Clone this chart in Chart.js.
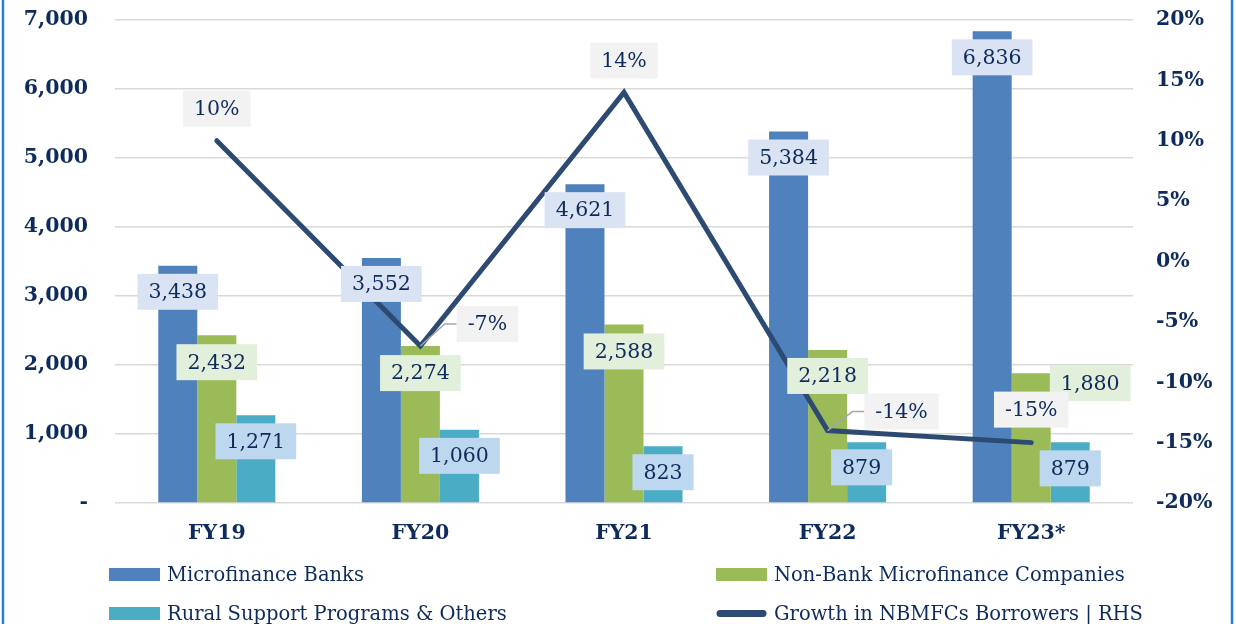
<!DOCTYPE html>
<html>
<head>
<meta charset="utf-8">
<script src="https://cdn.jsdelivr.net/npm/chart.js@4/dist/chart.umd.min.js"></script>
<style>
  html, body { margin: 0; padding: 0; background: #fff; }
  canvas { display: block; }
</style>
</head>
<body>
<canvas id="graphique" width="1237" height="624"></canvas>
<script>
// Données
const categories = ["FY19", "FY20", "FY21", "FY22", "FY23*"];
const microfinanceBanks = [3438, 3552, 4621, 5384, 6836];
const nonBankMicrofinance = [2432, 2274, 2588, 2218, 1880];
const ruralSupport = [1271, 1060, 823, 879, 879];
const growthNBMFC = [10, -7, 14, -14, -15]; // en %
const leftTicks = [0, 1000, 2000, 3000, 4000, 5000, 6000, 7000];
const rightTicks = [-20, -15, -10, -5, 0, 5, 10, 15, 20];

const navy = "#0e2b5c";
const fontSerif = "'DejaVu Serif', serif";

// décalage des étiquettes (dx, dy) par rapport au point / haut de barre
const barLabelOffset = [
  [[0, 26], [0, 26], [0, 26], [0, 26], [0, 26]],
  [[0, 27], [0, 27], [0, 27], [0, 26], [59, 10]],
  [[0, 26], [0, 26], [0, 26], [-5, 25], [0, 26]],
];
const lineLabelOffset = [[0, -32], [67, -22], [0, -32], [74, -19], [0, -33]];
const labelFill = ["#dae3f3", "#e2efda", "#bdd7ee", "#f2f2f2"];

function fmt(v) {
  return v.toLocaleString("en-US");
}

function drawBox(ctx, text, cx, cy, fill) {
  ctx.font = "20.5px " + fontSerif;
  const w = ctx.measureText(text).width + 22;
  const h = 36;
  ctx.fillStyle = fill;
  ctx.fillRect(cx - w / 2, cy - h / 2, w, h);
  ctx.fillStyle = navy;
  ctx.textAlign = "center";
  ctx.textBaseline = "middle";
  ctx.fillText(text, cx, cy + 1);
  return w;
}

const etiquettes = {
  id: "etiquettes",
  afterDatasetsDraw(chart) {
    const ctx = chart.ctx;
    ctx.save();
    // barres
    for (let i = 0; i < 3; i++) {
      const meta = chart.getDatasetMeta(i);
      meta.data.forEach((el, j) => {
        const off = barLabelOffset[i][j];
        drawBox(ctx, fmt(chart.data.datasets[i].data[j]), el.x + off[0], el.y + off[1], labelFill[i]);
      });
    }
    // ligne
    const meta = chart.getDatasetMeta(3);
    meta.data.forEach((el, j) => {
      const off = lineLabelOffset[j];
      const cx = el.x + off[0];
      const cy = el.y + off[1];
      ctx.font = "20.5px " + fontSerif;
      const w = ctx.measureText(growthNBMFC[j] + "%").width + 22;
      if (off[0] !== 0) {
        const left = cx - w / 2;
        ctx.strokeStyle = "#a6a6a6";
        ctx.lineWidth = 1.5;
        ctx.beginPath();
        ctx.moveTo(el.x, el.y);
        ctx.lineTo(left - 12, cy);
        ctx.lineTo(left, cy);
        ctx.stroke();
      }
      drawBox(ctx, growthNBMFC[j] + "%", cx, cy, labelFill[3]);
    });
    ctx.restore();
  },
  afterDraw(chart) {
    const ctx = chart.ctx;
    ctx.save();
    // cadre
    ctx.strokeStyle = "#2a7fd4";
    ctx.lineWidth = 2.5;
    ctx.beginPath();
    ctx.moveTo(3, 0); ctx.lineTo(3, 624);
    ctx.moveTo(1232, 0); ctx.lineTo(1232, 624);
    ctx.stroke();
    // légende sur deux colonnes
    const pos = [[109, 574.5], [716, 574.5], [109, 613.5], [716, 613.5]];
    chart.data.datasets.forEach((ds, i) => {
      const [x, y] = pos[i];
      if (ds.type === "line") {
        ctx.strokeStyle = ds.borderColor;
        ctx.lineWidth = 7;
        ctx.lineCap = "round";
        ctx.beginPath();
        ctx.moveTo(x + 4, y);
        ctx.lineTo(x + 47, y);
        ctx.stroke();
      } else {
        ctx.fillStyle = ds.backgroundColor;
        ctx.fillRect(x, y - 6.5, 51, 13);
      }
      ctx.fillStyle = navy;
      ctx.font = "19.5px " + fontSerif;
      ctx.textAlign = "left";
      ctx.textBaseline = "middle";
      ctx.fillText(ds.label, x + 58, y + 1);
    });
    ctx.restore();
  }
};

const data = {
  labels: categories,
  datasets: [
    { label: "Microfinance Banks", data: microfinanceBanks, backgroundColor: "#4f81bd", yAxisID: "y", order: 1 },
    { label: "Non-Bank Microfinance Companies", data: nonBankMicrofinance, backgroundColor: "#9bbb59", yAxisID: "y", order: 1 },
    { label: "Rural Support Programs & Others", data: ruralSupport, backgroundColor: "#4bacc6", yAxisID: "y", order: 1 },
    {
      type: "line", label: "Growth in NBMFCs Borrowers | RHS", data: growthNBMFC,
      borderColor: "#2c4a72", borderWidth: 5, pointRadius: 0, tension: 0,
      borderCapStyle: "round", borderJoinStyle: "miter", yAxisID: "y1", order: 0
    }
  ]
};

const tickFont = { family: fontSerif, size: 20.5, weight: "bold" };

// hauteur du graphique fixée : on retire la marge ajoutée par les axes
function fixeAxe(largeur) {
  return function (scale) {
    scale.width = largeur;
    scale.paddingTop = 0;
    scale.paddingBottom = 0;
  };
}

const config = {
  type: "bar",
  data: data,
  options: {
    responsive: false,
    animation: false,
    devicePixelRatio: 1,
    layout: { padding: { top: 20, left: 0, right: 0, bottom: 0 } },
    categoryPercentage: 0.575,
    barPercentage: 1,
    plugins: { legend: { display: false }, tooltip: { enabled: false } },
    scales: {
      x: {
        grid: { display: false, drawTicks: false },
        border: { display: false },
        ticks: { color: navy, font: tickFont, padding: 18 },
        afterFit(scale) { scale.height = 121; }
      },
      y: {
        position: "left",
        min: 0, max: 7000,
        grid: { color: "#d9d9d9", lineWidth: 1.5, drawTicks: false },
        border: { display: false },
        afterBuildTicks(scale) { scale.ticks = leftTicks.map(v => ({ value: v })); },
        ticks: {
          color: navy, font: tickFont, padding: 27,
          callback: v => (v === 0 ? "-" : fmt(v))
        },
        afterFit: fixeAxe(115)
      },
      y1: {
        position: "right",
        min: -20, max: 20,
        grid: { display: false, drawTicks: false },
        border: { display: false },
        afterBuildTicks(scale) { scale.ticks = rightTicks.map(v => ({ value: v })); },
        ticks: { color: navy, font: tickFont, padding: 23, callback: v => v + "%" },
        afterFit: fixeAxe(104)
      }
    }
  },
  plugins: [etiquettes]
};

const graphique = new Chart(document.querySelector("#graphique"), config);
</script>
</body>
</html>
